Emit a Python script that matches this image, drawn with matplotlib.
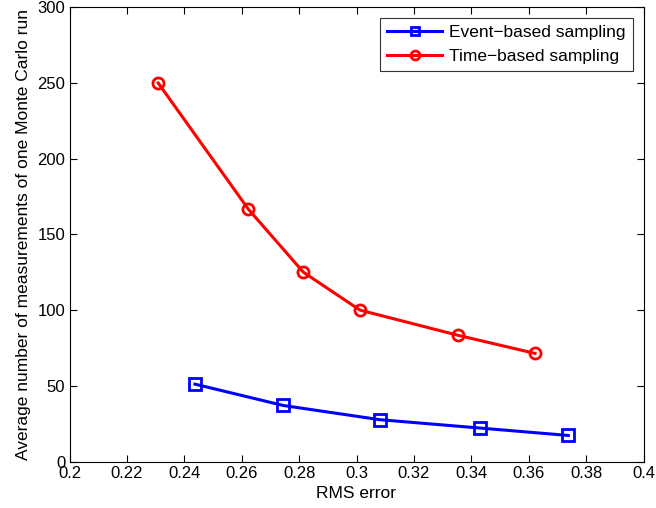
import matplotlib
matplotlib.use("Agg")
import matplotlib.pyplot as plt

plt.rcParams['font.family'] = ['Liberation Sans', 'DejaVu Sans']

event_x = [0.2437, 0.2745, 0.3082, 0.3430, 0.3738]
event_y = [51.1, 37.0, 27.6, 22.1, 17.2]
time_x = [0.2309, 0.2623, 0.2815, 0.3012, 0.3355, 0.3622]
time_y = [250.0, 166.7, 125.0, 100.0, 83.3, 71.4]
xticks = [0.2, 0.22, 0.24, 0.26, 0.28, 0.3, 0.32, 0.34, 0.36, 0.38, 0.4]
xticklabels = ['0.2', '0.22', '0.24', '0.26', '0.28', '0.3', '0.32', '0.34', '0.36', '0.38', '0.4']
yticks = [0, 50, 100, 150, 200, 250, 300]

fig = plt.figure(figsize=(6.56, 5.08), dpi=100)
L, R, T, B = 69.5, 643.5, 7.3, 461.5
ax = fig.add_axes([L/656, (508-B)/508, (R-L)/656, (B-T)/508])

ax.plot(event_x, event_y, color='#0000ff', lw=2.2, marker='s', ms=8,
        mfc='none', mec='#0000ff', mew=2, label='Event\u2212based sampling')
ax.plot(time_x, time_y, color='#ff0000', lw=2.2, marker='o', ms=8,
        mfc='none', mec='#ff0000', mew=2, label='Time\u2212based sampling')

ax.set_xlim(0.2, 0.4)
ax.set_ylim(0, 300)
ax.set_xticks(xticks)
ax.set_xticklabels(xticklabels)
ax.set_yticks(yticks)
ax.tick_params(direction='in', top=True, right=True, labelsize=12, length=5, width=0.8, pad=3)
for s in ax.spines.values():
    s.set_linewidth(0.8)
ax.set_xlabel('RMS error', fontsize=12.5, labelpad=4)
ax.set_ylabel('Average number of measurements of one Monte Carlo run', fontsize=12.5, labelpad=5)

leg = ax.legend(loc='upper right', fontsize=12.5, frameon=True, fancybox=False,
                edgecolor='black', handlelength=3.2, handletextpad=0.4,
                borderaxespad=0.6, borderpad=0.42, labelspacing=0.48,
                markerscale=0.8)
leg.get_frame().set_linewidth(0.8)

fig.savefig('out.png', dpi=100)
